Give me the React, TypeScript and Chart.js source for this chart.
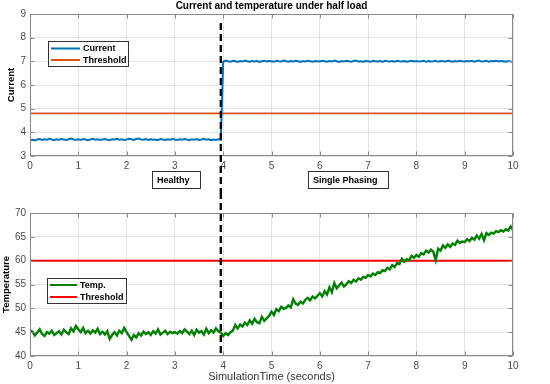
import React, { useEffect, useRef } from "react";
import { Chart, registerables } from "chart.js";

Chart.register(...registerables);

const FONT = "'Liberation Sans', Arial, Helvetica, sans-serif";

// ---- data ----
const TITLE = "Current and temperature under half load";
const TIME_STEP = 0.05;
const FAULT_TIME = 3.95;
const CURRENT_THRESHOLD = 4.8;
const TEMP_THRESHOLD = 60;
const X_TICKS = [0, 1, 2, 3, 4, 5, 6, 7, 8, 9, 10];
const CURRENT_TICKS = [3, 4, 5, 6, 7, 8, 9];
const TEMP_TICKS = [40, 45, 50, 55, 60, 65, 70];
const REGION_LABELS = ["Healthy", "Single Phasing"];
const REGION_FROM = [2.53, 5.76];
const REGION_TO = [3.52, 7.41];

const currentValues = [
  3.67, 3.69, 3.66, 3.70, 3.72, 3.68, 3.71, 3.69, 3.73, 3.70, 3.67, 3.71, 3.69, 3.72, 3.70, 3.68, 3.71, 3.74, 3.70, 3.69,
  3.71, 3.68, 3.72, 3.70, 3.67, 3.70, 3.73, 3.69, 3.71, 3.68, 3.70, 3.72, 3.69, 3.67, 3.71, 3.70, 3.73, 3.69, 3.71, 3.68,
  3.70, 3.73, 3.71, 3.68, 3.72, 3.74, 3.70, 3.69, 3.72, 3.68, 3.71, 3.69, 3.70, 3.67, 3.72, 3.70, 3.68, 3.71, 3.69, 3.72,
  3.70, 3.68, 3.71, 3.69, 3.72, 3.70, 3.67, 3.71, 3.69, 3.72, 3.68, 3.70, 3.73, 3.69, 3.71, 3.67, 3.70, 3.68, 3.71, 3.69,
  6.98, 7.03, 7.00, 6.98, 7.02, 7.00, 6.97, 7.01, 6.99, 7.03, 7.00, 6.98, 7.01, 6.99, 7.02, 6.97, 7.00, 7.02, 6.99, 7.01,
  7.00, 6.98, 7.02, 7.00, 6.99, 7.03, 7.00, 6.98, 7.01, 6.99, 7.02, 7.00, 6.97, 7.01, 6.99, 7.02, 7.00, 6.98, 7.01, 7.00,
  6.99, 7.02, 7.00, 6.98, 7.01, 6.99, 7.03, 7.00, 6.97, 7.01, 6.99, 7.02, 7.00, 6.98, 7.01, 7.03, 6.99, 7.00, 6.98, 7.01,
  7.00, 6.98, 7.02, 7.00, 6.99, 7.01, 6.98, 7.02, 7.00, 6.99, 7.01, 6.98, 7.02, 7.00, 6.99, 7.01, 6.98, 7.00, 7.02, 6.99,
  7.01, 6.99, 7.00, 7.02, 6.98, 7.01, 6.99, 7.00, 7.02, 6.98, 7.01, 7.00, 6.99, 7.02, 7.00, 6.98, 7.01, 6.99, 7.02, 7.00,
  6.99, 7.01, 7.00, 7.02, 6.98, 7.01, 7.03, 6.99, 7.00, 7.02, 6.98, 7.01, 7.00, 7.02, 6.99, 7.01, 7.00, 6.98, 7.01, 6.99,
  6.98,
];

const tempValues = [
  45.4, 45.1, 44.3, 44.9, 45.6, 44.6, 44.2, 45.0, 44.7, 45.3, 44.4, 44.8, 45.2, 44.5, 45.5, 45.0, 44.6, 45.8, 45.2, 46.3,
  45.6, 45.0, 45.9, 44.8, 45.3, 44.7, 45.4, 44.9, 45.7, 44.6, 45.1, 44.5, 45.2, 43.6, 44.4, 45.0, 44.3, 45.3, 44.8, 45.9,
  45.0, 44.2, 43.4, 44.4, 43.9, 44.8, 44.3, 45.1, 44.6, 45.0, 44.4, 45.2, 44.7, 45.6, 44.5, 44.9, 45.3, 44.6, 45.1, 44.8,
  45.0, 44.7, 45.2, 44.8, 45.6, 45.1, 44.6, 45.3, 44.4, 45.5, 44.9, 45.2, 44.5, 45.7, 44.8, 45.4, 44.9, 45.8, 45.2, 44.9,
  44.2, 44.8, 44.4, 45.0, 45.3, 46.5, 45.8, 46.6, 46.2, 47.0, 46.5, 47.5, 46.8, 47.8, 47.1, 46.9, 48.2, 47.4, 47.9, 48.4,
  49.3, 48.6, 49.8, 49.4, 50.3, 49.9, 50.1, 50.6, 50.2, 51.9, 51.0, 50.7, 51.4, 51.0, 51.8, 52.2, 51.7, 52.5, 52.1, 52.6,
  53.2, 52.5, 53.6, 52.9, 54.4, 53.4, 55.3, 54.2, 54.8, 55.4, 54.6, 55.0, 55.7, 55.3, 56.0, 55.6, 56.3, 56.0, 56.6, 56.4,
  57.0, 56.7, 57.3, 57.0, 57.6, 57.4, 58.0, 57.8, 58.5, 58.2, 59.1, 58.7, 59.5, 59.3, 60.4, 59.8, 60.3, 60.1, 61.0, 60.6,
  61.2, 60.8, 61.6, 61.3, 62.1, 61.7, 62.3, 61.9, 60.1, 62.5, 62.1, 63.2, 62.7, 63.4, 62.9, 63.6, 63.3, 64.2, 63.7, 64.0,
  63.9, 64.5, 64.1, 64.8, 64.4, 65.3, 64.6, 65.6, 64.3, 65.8, 65.4, 65.9, 65.7, 66.2, 66.0, 66.4, 66.1, 66.6, 66.3, 67.2,
  66.5,
];

const timeValues = currentValues.map((_, i) => +(i * TIME_STEP).toFixed(2));

const FRAME = "#8a8a8a";
const GRID = "#e3e3e3";
const TICK_COLOR = "#4a4a4a";

const decorPlugin = {
  id: "decor",
  afterDatasetsDraw(chart: any, _args: any, opts: any) {
    const { ctx, chartArea: a, scales } = chart;
    const xs = scales.x;
    const ys = scales.y;
    ctx.save();
    // frame
    const L = Math.round(a.left) + 0.5;
    const R = Math.round(a.right) - 0.5;
    const T = Math.round(a.top) + 0.5;
    const B = Math.round(a.bottom) - 0.5;
    ctx.strokeStyle = FRAME;
    ctx.lineWidth = 1;
    ctx.strokeRect(L, T, R - L, B - T);
    // inward ticks
    ctx.beginPath();
    for (const v of opts.xTicks) {
      const p = Math.round(xs.getPixelForValue(v)) + 0.5;
      ctx.moveTo(p, B); ctx.lineTo(p, B - 4);
      ctx.moveTo(p, T); ctx.lineTo(p, T + 4);
    }
    for (const v of opts.yTicks) {
      const p = Math.round(ys.getPixelForValue(v)) + 0.5;
      ctx.moveTo(L, p); ctx.lineTo(L + 4, p);
      ctx.moveTo(R, p); ctx.lineTo(R - 4, p);
    }
    ctx.stroke();
    // dashed fault line
    const fx = xs.getPixelForValue(opts.faultX);
    ctx.setLineDash([7, 4]);
    ctx.strokeStyle = "#000";
    ctx.lineWidth = 2.3;
    ctx.beginPath();
    ctx.moveTo(fx, opts.dashFrom === "top" ? 0 : opts.dashFrom);
    ctx.lineTo(fx, opts.dashTo === "bottom" ? chart.height : a.bottom);
    ctx.stroke();
    ctx.setLineDash([]);
    // legend
    const lg = opts.legend;
    ctx.fillStyle = "#fff";
    ctx.fillRect(lg.x, lg.y, lg.w, lg.h);
    ctx.strokeStyle = "#333";
    ctx.lineWidth = 1;
    ctx.strokeRect(lg.x + 0.5, lg.y + 0.5, lg.w, lg.h);
    ctx.font = `bold 9px ${FONT}`;
    ctx.textBaseline = "middle";
    ctx.textAlign = "left";
    chart.data.datasets.forEach((ds: any, i: number) => {
      const yy = lg.y + lg.rowTop + i * lg.rowGap;
      ctx.strokeStyle = ds.borderColor;
      ctx.lineWidth = 2;
      ctx.beginPath();
      ctx.moveTo(lg.x + 3, yy);
      ctx.lineTo(lg.x + 3 + lg.lineLen, yy);
      ctx.stroke();
      ctx.fillStyle = "#000";
      ctx.fillText(ds.label, lg.x + 6 + lg.lineLen, yy + 0.5);
    });
    // region labels
    if (opts.regions) {
      ctx.font = `bold 9px ${FONT}`;
      opts.regions.labels.forEach((t: string, i: number) => {
        const x0 = Math.round(xs.getPixelForValue(opts.regions.from[i]));
        const x1 = Math.round(xs.getPixelForValue(opts.regions.to[i]));
        const y0 = opts.regions.y;
        const h = opts.regions.h;
        ctx.fillStyle = "#fff";
        ctx.fillRect(x0, y0, x1 - x0, h);
        ctx.strokeStyle = "#333";
        ctx.lineWidth = 1;
        ctx.strokeRect(x0 + 0.5, y0 + 0.5, x1 - x0, h);
        ctx.fillStyle = "#000";
        ctx.fillText(t, x0 + 5, y0 + h / 2 + 1);
      });
    }
    // title
    if (opts.title) {
      ctx.font = `bold 10px ${FONT}`;
      ctx.fillStyle = "#000";
      ctx.textAlign = "center";
      ctx.textBaseline = "middle";
      ctx.fillText(opts.title, (a.left + a.right) / 2, 6);
    }
    ctx.restore();
  },
};

function makeScales(ticks: number[], yTitle: string, yTitlePad: number, xHeight: number, xTitle: string | null) {
  return {
    x: {
      type: "linear",
      min: 0,
      max: 10,
      afterBuildTicks: (s: any) => { s.ticks = X_TICKS.map((v) => ({ value: v })); },
      afterFit: (s: any) => { s.height = xHeight; },
      grid: { color: GRID, drawTicks: false, lineWidth: 1 },
      border: { display: false },
      ticks: { padding: 4, color: TICK_COLOR, font: { family: FONT, size: 10 }, maxRotation: 0 },
      title: xTitle
        ? { display: true, text: xTitle, color: "#333", font: { family: FONT, size: 11 }, padding: { top: 0, bottom: 0 } }
        : { display: false },
    },
    y: {
      type: "linear",
      min: ticks[0],
      max: ticks[ticks.length - 1],
      afterBuildTicks: (s: any) => { s.ticks = ticks.map((v) => ({ value: v })); },
      afterFit: (s: any) => { s.width = 30; },
      grid: { color: GRID, drawTicks: false, lineWidth: 1 },
      border: { display: false },
      ticks: { padding: 4, color: TICK_COLOR, font: { family: FONT, size: 10 } },
      title: { display: true, text: yTitle, color: "#000", font: { family: FONT, size: 9.5, weight: "bold" }, padding: { top: yTitlePad, bottom: 0 } },
    },
  };
}

function toXY(vals: number[]) {
  return vals.map((v, i) => ({ x: timeValues[i], y: v }));
}

export default function App() {
  const topRef = useRef<HTMLCanvasElement>(null);
  const botRef = useRef<HTMLCanvasElement>(null);

  useEffect(() => {
    const top = new Chart(topRef.current!, {
      type: "line",
      data: {
        datasets: [
          { label: "Current", data: toXY(currentValues), borderColor: "#0072BD", borderWidth: 2, pointRadius: 0, tension: 0 },
          { label: "Threshold", data: [{ x: 0, y: CURRENT_THRESHOLD }, { x: 10, y: CURRENT_THRESHOLD }], borderColor: "#D95319", borderWidth: 1.8, pointRadius: 0 },
        ],
      },
      options: {
        animation: false,
        responsive: false,
        events: [],
        layout: { padding: { top: 14, right: 37, left: 0, bottom: 0 } },
        scales: makeScales(CURRENT_TICKS, "Current", 6, 36, null) as any,
        plugins: {
          legend: { display: false },
          tooltip: { enabled: false },
          decor: {
            xTicks: X_TICKS,
            yTicks: CURRENT_TICKS,
            faultX: FAULT_TIME,
            dashFrom: 23,
            dashTo: "bottom",
            legend: { x: 48, y: 41, w: 80, h: 25, rowTop: 7.5, rowGap: 11.5, lineLen: 29 },
            regions: { labels: REGION_LABELS, from: REGION_FROM, to: REGION_TO, y: 171, h: 17 },
            title: TITLE,
          },
        } as any,
      },
      plugins: [decorPlugin],
    });
    const bot = new Chart(botRef.current!, {
      type: "line",
      data: {
        datasets: [
          { label: "Temp.", data: toXY(tempValues), borderColor: "#008000", borderWidth: 2.4, pointRadius: 0, tension: 0 },
          { label: "Threshold", data: [{ x: 0, y: TEMP_THRESHOLD }, { x: 10, y: TEMP_THRESHOLD }], borderColor: "#FF0000", borderWidth: 2, pointRadius: 0 },
        ],
      },
      options: {
        animation: false,
        responsive: false,
        events: [],
        layout: { padding: { top: 21, right: 37, left: 0, bottom: 0 } },
        scales: makeScales(TEMP_TICKS, "Temperature", 1, 28, "SimulationTime (seconds)") as any,
        plugins: {
          legend: { display: false },
          tooltip: { enabled: false },
          decor: {
            xTicks: X_TICKS,
            yTicks: TEMP_TICKS,
            faultX: FAULT_TIME,
            dashFrom: "top",
            dashTo: "area",
            legend: { x: 47, y: 86, w: 79, h: 25, rowTop: 7, rowGap: 12, lineLen: 27 },
          },
        } as any,
      },
      plugins: [decorPlugin],
    });
    return () => {
      top.destroy();
      bot.destroy();
    };
  }, []);

  return (
    <div style={{ position: "fixed", left: 0, top: 0, width: 550, height: 384, background: "#fff" }}>
      <canvas ref={topRef} width={550} height={192} style={{ position: "absolute", left: 0, top: 0, width: 550, height: 192 }} />
      <canvas ref={botRef} width={550} height={192} style={{ position: "absolute", left: 0, top: 192, width: 550, height: 192 }} />
    </div>
  );
}
